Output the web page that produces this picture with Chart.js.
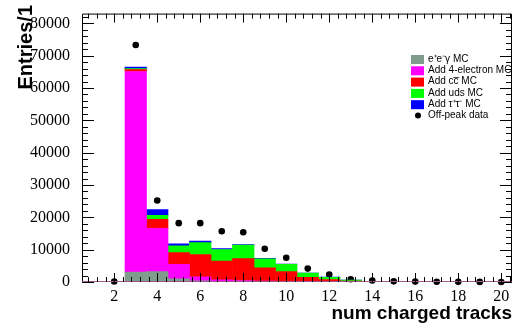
<!DOCTYPE html>
<html>
<head>
<meta charset="utf-8">
<script src="https://cdn.jsdelivr.net/npm/chart.js@4"></script>
<style>
  body { margin: 0; background: #fff; }
</style>
</head>
<body>
<canvas id="myChart" width="518" height="328"></canvas>
<script>
// bins of the stacked MC histogram (centres)
const bins = [3, 4, 5, 6, 7, 8, 9, 10, 11, 12, 13, 14];
const eegMC      = [3100, 3200, 1000, 400, 200, 150, 100, 80, 50, 30, 10, 5];
const fourElecMC = [62000, 13400, 4500, 1200, 450, 300, 200, 150, 80, 40, 20, 10];
const ccbarMC    = [600, 2800, 3600, 6900, 5800, 6800, 4100, 3000, 1300, 700, 250, 80];
const udsMC      = [300, 1200, 2100, 3700, 3600, 4200, 2800, 2200, 1300, 700, 300, 100];
const tautauMC   = [500, 1800, 600, 450, 300, 150, 100, 80, 50, 30, 10, 5];

// off-peak data points
const dataX   = [2, 3, 4, 5, 6, 7, 8, 9, 10, 11, 12, 13, 14, 15, 16, 17, 18, 19, 20];
const offPeak = [150, 73300, 25200, 18200, 18200, 15700, 15400, 10300, 7500, 4150, 2300, 850, 450, 200, 120, 80, 50, 30, 20];

const xTickLabels = [2, 4, 6, 8, 10, 12, 14, 16, 18, 20];
const yTickLabels = [0, 10000, 20000, 30000, 40000, 50000, 60000, 70000, 80000];

function pts(xs, ys) {
  return xs.map((x, i) => ({x: x, y: ys[i]}));
}

const series = [
  {label: 'e\u207Ae\u207B\u03B3 MC', data: eegMC, color: '#7f9c8c'},
  {label: 'Add 4-electron MC', data: fourElecMC, color: '#ff00ff'},
  {label: 'Add c\u0063\u0305 MC', data: ccbarMC, color: '#ff0000'},
  {label: 'Add uds MC', data: udsMC, color: '#00ff00'},
  {label: 'Add \u03C4\u207A\u03C4\u207B MC', data: tautauMC, color: '#0000ff'}
];

// frame, inward ticks, titles and legend in ROOT style
const rootStyle = {
  id: 'rootStyle',
  afterDraw(chart) {
    const ctx = chart.ctx;
    const a = chart.chartArea;
    const xs = chart.scales.x, ys = chart.scales.y;
    ctx.save();
    ctx.strokeStyle = '#000';
    ctx.lineWidth = 1;
    ctx.beginPath();
    ctx.moveTo(a.left + 0.5, a.bottom);
    ctx.lineTo(a.left + 0.5, a.top + 0.5);
    ctx.lineTo(a.right - 0.5, a.top + 0.5);
    ctx.lineTo(a.right - 0.5, a.bottom);
    ctx.stroke();
    ctx.strokeStyle = '#a05a8c';
    ctx.beginPath();
    ctx.moveTo(a.left, a.bottom - 0.5);
    ctx.lineTo(a.right, a.bottom - 0.5);
    ctx.stroke();

    ctx.strokeStyle = '#000';
    ctx.beginPath();
    // y ticks
    for (let v = 0; v <= 82000; v += 2000) {
      const y = Math.round(ys.getPixelForValue(v)) + 0.5;
      const len = v % 10000 === 0 ? 12 : 6;
      ctx.moveTo(a.left, y); ctx.lineTo(a.left + len, y);
      ctx.moveTo(a.right, y); ctx.lineTo(a.right - len, y);
    }
    // x ticks
    for (let i = 2; i <= 51; i++) {
      const v = i * 0.4;
      const x = Math.round(xs.getPixelForValue(v)) + 0.5;
      const len = i % 5 === 0 ? 9 : 5;
      ctx.moveTo(x, a.bottom); ctx.lineTo(x, a.bottom - len);
      ctx.moveTo(x, a.top); ctx.lineTo(x, a.top + len);
    }
    ctx.stroke();

    // axis titles
    ctx.fillStyle = '#000';
    ctx.font = 'bold 19px "Liberation Sans", Arial, sans-serif';
    ctx.textAlign = 'right';
    ctx.textBaseline = 'alphabetic';
    ctx.fillText('num charged tracks', 512, 319);
    ctx.save();
    ctx.font = 'bold 20px "Liberation Sans", Arial, sans-serif';
    ctx.translate(32, 5);
    ctx.rotate(-Math.PI / 2);
    ctx.fillText('Entries/1', 0, 0);
    ctx.restore();

    // legend
    ctx.font = '10px "Liberation Sans", Arial, sans-serif';
    ctx.textAlign = 'left';
    ctx.textBaseline = 'middle';
    const y0 = 59, dy = 11.3;
    series.forEach((s, i) => {
      const y = y0 + i * dy;
      ctx.fillStyle = s.color;
      ctx.fillRect(411, y - 4, 13, 9);
      ctx.fillStyle = '#000';
      ctx.fillText(s.label, 428, y);
    });
    const yd = y0 + 5 * dy;
    ctx.beginPath();
    ctx.arc(418, yd, 3, 0, Math.PI * 2);
    ctx.fill();
    ctx.fillText('Off-peak data', 428, yd);
    ctx.restore();
  }
};

const datasets = series.map(s => ({
  type: 'bar',
  label: s.label,
  data: pts(bins, s.data),
  backgroundColor: s.color,
  borderWidth: 0,
  barPercentage: 1,
  categoryPercentage: 1
}));
datasets.push({
  type: 'line',
  label: 'Off-peak data',
  data: pts(dataX, offPeak),
  stack: 'data',
  showLine: false,
  pointRadius: 3.3,
  pointBorderWidth: 0,
  pointBackgroundColor: '#000',
  clip: false
});

new Chart(document.getElementById('myChart'), {
  type: 'bar',
  data: {datasets: datasets},
  options: {
    responsive: false,
    animation: false,
    layout: {padding: {top: 5, right: 6, left: 0, bottom: 0}},
    plugins: {
      legend: {display: false},
      tooltip: {enabled: false}
    },
    scales: {
      x: {
        type: 'linear',
        stacked: true,
        offset: false,
        min: 0.5,
        max: 20.5,
        grid: {display: false, offset: false},
        border: {display: false},
        afterBuildTicks: s => { s.ticks = xTickLabels.map(v => ({value: v})); },
        afterFit: s => { s.height = 46; },
        ticks: {
          padding: -3,
          maxRotation: 0,
          autoSkip: false,
          color: '#000',
          callback: v => String(v),
          font: {family: '"Liberation Serif", "Times New Roman", serif', size: 16}
        }
      },
      y: {
        stacked: true,
        min: 0,
        max: 83000,
        grid: {display: false},
        border: {display: false},
        afterBuildTicks: s => { s.ticks = yTickLabels.map(v => ({value: v})); },
        afterFit: s => { s.width = 82; },
        ticks: {
          padding: 4,
          color: '#000',
          callback: v => String(v),
          font: {family: '"Liberation Serif", "Times New Roman", serif', size: 16}
        }
      }
    }
  },
  plugins: [rootStyle]
});
</script>
</body>
</html>
